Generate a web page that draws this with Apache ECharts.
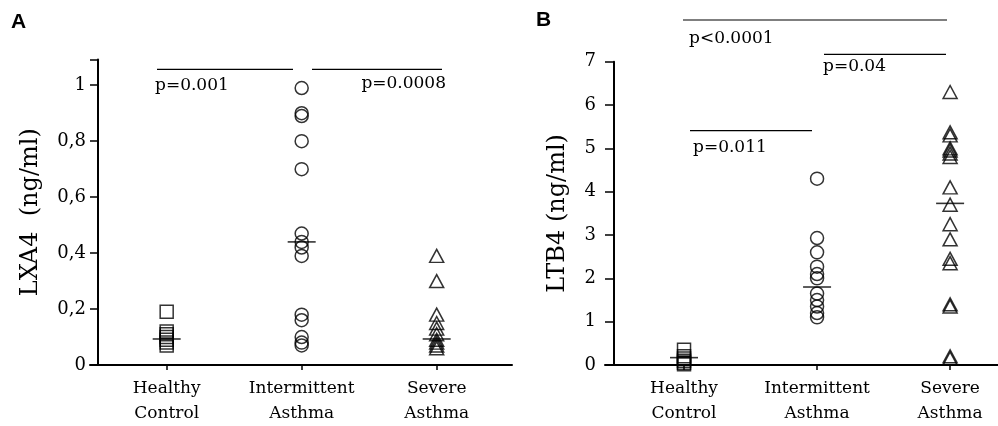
<!DOCTYPE html>
<html><head><meta charset="utf-8">
<script src="https://cdn.jsdelivr.net/npm/echarts@6/dist/echarts.min.js"></script>
<style>html,body{margin:0;padding:0;background:#fff}#c{width:998px;height:426px}</style>
</head><body><div id="c"></div>
<script>
// ---- data ----
const categories = ['Healthy\nControl', 'Intermittent\nAsthma', 'Severe\nAsthma'];

const lxa4Healthy = [0.19, 0.12, 0.11, 0.10, 0.09, 0.08, 0.07];
const lxa4Intermittent = [0.99, 0.90, 0.89, 0.80, 0.70, 0.47, 0.44, 0.42, 0.39, 0.18, 0.16, 0.10, 0.08, 0.07];
const lxa4Severe = [0.39, 0.30, 0.18, 0.15, 0.13, 0.11, 0.09, 0.08, 0.07, 0.06];
const lxa4Means = [0.093, 0.44, 0.093];

const ltb4Healthy = [0.35, 0.2, 0.15, 0.1, 0.05, 0.02];
const ltb4Intermittent = [4.3, 2.93, 2.6, 2.27, 2.1, 2.0, 1.65, 1.5, 1.35, 1.2, 1.1];
const ltb4Severe = [6.3, 5.37, 5.3, 5.0, 4.95, 4.88, 4.8, 4.1, 3.7, 3.25, 2.9, 2.45, 2.35, 1.4, 1.35, 0.2, 0.15];
const ltb4Means = [0.17, 1.8, 3.73];

const lxa4TickLabels = ['0', '0,2', '0,4', '0,6', '0,8', '1'];
const ltb4TickLabels = ['0', '1', '2', '3', '4', '5', '6', '7'];

const lxa4Title = 'LXA4  (ng/ml)';
const ltb4Title = 'LTB4 (ng/ml)';

// ---- chart ----
const FONT = 'DejaVu Serif';
const pts = (ci, arr) => arr.map(v => [ci, v]);
const meanPts = arr => arr.map((v, i) => [i, v]);
const groupSymbols = ['rect', 'circle', 'triangle'];
const groupSizes = [[13, 13], 13, [14, 13]];

function groupSeries(gi, xi, arrs, means) {
  const s = arrs.map((arr, ci) => ({
    type: 'scatter', xAxisIndex: xi, yAxisIndex: xi,
    data: pts(ci, arr),
    symbol: groupSymbols[ci], symbolSize: groupSizes[ci],
    itemStyle: { color: 'rgba(0,0,0,0)', borderColor: '#000', borderWidth: 1.5 },
    z: 3
  }));
  s.push({
    type: 'scatter', xAxisIndex: xi, yAxisIndex: xi,
    data: meanPts(means), symbol: 'rect', symbolSize: [28, 1.6],
    itemStyle: { color: '#000' }, z: 4
  });
  return s;
}

function xAxisCfg(gi, min, max) {
  return {
    type: 'value', gridIndex: gi, min: min, max: max,
    splitLine: { show: false },
    axisLine: { show: true, lineStyle: { color: '#000', width: 2 } },
    axisTick: { show: true, customValues: [0, 1, 2], length: 5, lineStyle: { color: '#000', width: 1.5 } },
    axisLabel: {
      customValues: [0, 1, 2],
      formatter: v => categories[Math.round(v)] || '',
      color: '#000', fontFamily: FONT, fontSize: 17, lineHeight: 25, margin: 11
    }
  };
}

function yAxisCfg(gi, max, interval, labels, name, offset, margin, nameGap, tickLen) {
  return {
    type: 'value', gridIndex: gi, min: 0, max: max, interval: interval,
    offset: offset,
    splitLine: { show: false },
    axisLine: { show: true, onZero: false, lineStyle: { color: '#000', width: 2 } },
    axisTick: { show: true, length: tickLen, lineStyle: { color: '#000', width: 1.5 } },
    axisLabel: {
      formatter: v => {
        const k = v / interval;
        return Math.abs(k - Math.round(k)) < 1e-6 ? (labels[Math.round(k)] || '') : '';
      },
      color: '#000', fontFamily: FONT, fontSize: 18, margin: margin
    },
    name: name, nameLocation: 'middle', nameGap: nameGap,
    nameTextStyle: { color: '#000', fontFamily: FONT, fontSize: 24 }
  };
}

const txt = (x, y, s, align) => ({
  type: 'text', x: x, y: y,
  style: { text: s, fill: '#000', font: '17px "' + FONT + '"', textAlign: align || 'left', textVerticalAlign: 'middle' }
});
const hline = (x1, x2, y) => ({
  type: 'line', shape: { x1: x1, y1: y, x2: x2, y2: y },
  style: { stroke: '#000', lineWidth: 1.2 }
});

const option = {
  animation: false,
  backgroundColor: '#fff',
  grid: [
    { left: 90, top: 59.5, width: 422, height: 306.5 },
    { left: 605, top: 61.7, width: 393, height: 303.3 }
  ],
  xAxis: [ xAxisCfg(0, -0.568, 2.558), xAxisCfg(1, -0.594, 2.36) ],
  yAxis: [
    yAxisCfg(0, 1.092, 0.2, lxa4TickLabels, lxa4Title, -8, 12, 55, 8),
    yAxisCfg(1, 7, 1, ltb4TickLabels, ltb4Title, -9, 18, 44, 9)
  ],
  series: [
    ...groupSeries(0, 0, [lxa4Healthy, lxa4Intermittent, lxa4Severe], lxa4Means),
    ...groupSeries(1, 1, [ltb4Healthy, ltb4Intermittent, ltb4Severe], ltb4Means)
  ],
  graphic: [
    { type: 'text', x: 11, y: 22, style: { text: 'A', fill: '#000', font: 'bold 21px "Liberation Sans"', textVerticalAlign: 'middle' } },
    { type: 'text', x: 536, y: 20, style: { text: 'B', fill: '#000', font: 'bold 21px "Liberation Sans"', textVerticalAlign: 'middle' } },
    hline(157, 293, 69.3), hline(312, 442, 69.3),
    txt(155, 86, 'p=0.001'), txt(446, 84, 'p=0.0008', 'right'),
    hline(683, 947, 20), hline(824, 946, 54.3), hline(690, 812, 130.7),
    txt(689, 39, 'p<0.0001'), txt(823, 67, 'p=0.04'), txt(693, 148, 'p=0.011')
  ]
};

const chart = echarts.init(document.getElementById('c'), null, { renderer: 'canvas' });
chart.setOption(option);
</script>
</body></html>
